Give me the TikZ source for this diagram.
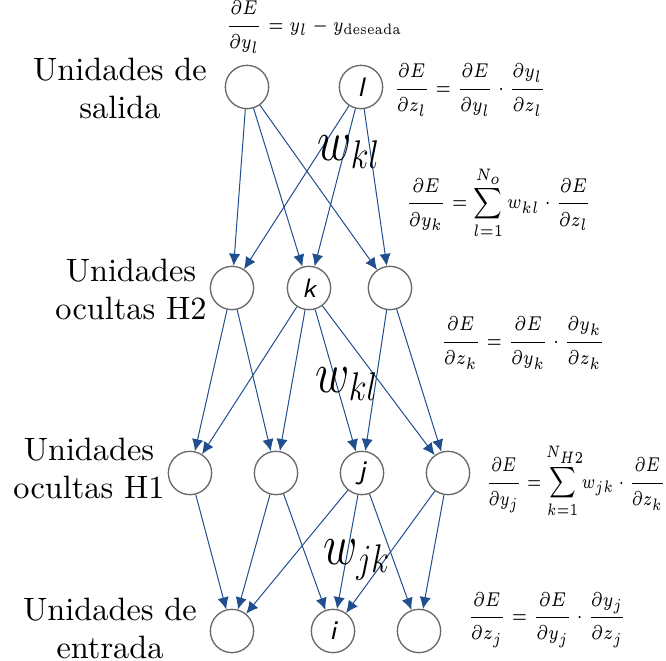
\documentclass[tikz,border=0pt]{standalone}
\definecolor{linkblue}{RGB}{32,78,142}
\definecolor{ringgray}{RGB}{105,105,105}
\usepackage{amsmath}
\usepackage{amssymb}
\usepackage{mathtools}
\usepackage{graphicx}
\usepackage{tikz}
\usetikzlibrary{positioning,arrows.meta}
\newcommand{\narrow}[2][0.82]{\scalebox{#1}[1]{#2}}

\begin{document}
\begin{tikzpicture}[
    x=0.3pt, y=-0.3pt,
    unit/.style={circle, draw=ringgray, line width=0.4pt, minimum size=13pt, inner sep=0pt, font=\footnotesize\sffamily\itshape},
    layer/.style={align=center, inner sep=0pt, font=\fontsize{9.7}{11.4}\selectfont},
    link/.style={-{Latex[length=3.6pt,width=3.4pt]}, draw=linkblue, line width=0.3pt},
    eq/.style={anchor=west, inner sep=0pt, font=\fontsize{6.5}{7.8}\selectfont},
    weight/.style={inner sep=0pt, font=\LARGE}
]
    \useasboundingbox (0,0) rectangle (666,661);

    % units
    \node[unit] (o1) at (247,87) {};
    \node[unit] (o2) at (361,87) {l};

    \node[unit] (h2a) at (232,288) {};
    \node[unit] (h2b) at (309,288) {k};
    \node[unit] (h2c) at (390,288) {};

    \node[unit] (h1a) at (190,473) {};
    \node[unit] (h1b) at (276,473) {};
    \node[unit] (h1c) at (362,473) {j};
    \node[unit] (h1d) at (448,473) {};

    \node[unit] (in1) at (232,631) {};
    \node[unit] (in2) at (333,631) {i};
    \node[unit] (in3) at (419,631) {};

    % layer names
    \node[layer] (nout) at (120,88) {Unidades de\\salida};
    \node[layer] (nh2) at (131,289) {Unidades\\ocultas H2};
    \node[layer] (nh1) at (89,468) {Unidades\\ocultas H1};
    \node[layer] (nin) at (110,628) {Unidades de\\entrada};

    % connections
    \draw[link] (o1) -- (h2a);
    \draw[link] (o1) -- (h2b);
    \draw[link] (o1) -- (h2c);
    \draw[link] (o2) -- (h2a);
    \draw[link] (o2) -- (h2b);
    \draw[link] (o2) -- (h2c);

    \draw[link] (h2a) -- (h1a);
    \draw[link] (h2a) -- (h1b);
    \draw[link] (h2b) -- (h1a);
    \draw[link] (h2b) -- (h1b);
    \draw[link] (h2b) -- (h1c);
    \draw[link] (h2b) -- (h1d);
    \draw[link] (h2c) -- (h1c);
    \draw[link] (h2c) -- (h1d);

    \draw[link] (h1a) -- (in1);
    \draw[link] (h1b) -- (in1);
    \draw[link] (h1b) -- (in2);
    \draw[link] (h1c) -- (in1);
    \draw[link] (h1c) -- (in2);
    \draw[link] (h1c) -- (in3);
    \draw[link] (h1d) -- (in2);
    \draw[link] (h1d) -- (in3);

    % weights
    \node[weight] (wkl1) at (349,152) {\narrow{$w_{kl}$}};
    \node[weight] (wkl2) at (347,384) {\narrow{$w_{kl}$}};
    \node[weight] (wjk) at (357,560) {\narrow{$w_{jk}$}};

    % gradients
    \node[eq, anchor=center] (gout) at (314,27) {\narrow{$\dfrac{\partial E}{\partial y_l} = y_l - y_{\text{deseada}}$}};
    \node[eq] (gzl) at (393,90) {\narrow{$\dfrac{\partial E}{\partial z_l} = \dfrac{\partial E}{\partial y_l}\cdot\dfrac{\partial y_l}{\partial z_l}$}};
    \node[eq] (gyk) at (405,203) {\narrow{$\dfrac{\partial E}{\partial y_k} = \displaystyle\sum_{l=1}^{N_o} w_{kl}\cdot\dfrac{\partial E}{\partial z_l}$}};
    \node[eq] (gzk) at (440,343) {\narrow{$\dfrac{\partial E}{\partial z_k} = \dfrac{\partial E}{\partial y_k}\cdot\dfrac{\partial y_k}{\partial z_k}$}};
    \node[eq] (gyj) at (485,481) {\narrow[0.76]{$\dfrac{\partial E}{\partial y_j} = \displaystyle\sum_{k=1}^{\mathclap{\;N_{H2}}} w_{jk}\cdot\dfrac{\partial E}{\partial z_k}$}};
    \node[eq] (gzj) at (467,620) {\narrow{$\dfrac{\partial E}{\partial z_j} = \dfrac{\partial E}{\partial y_j}\cdot\dfrac{\partial y_j}{\partial z_j}$}};
\end{tikzpicture}
\end{document}
